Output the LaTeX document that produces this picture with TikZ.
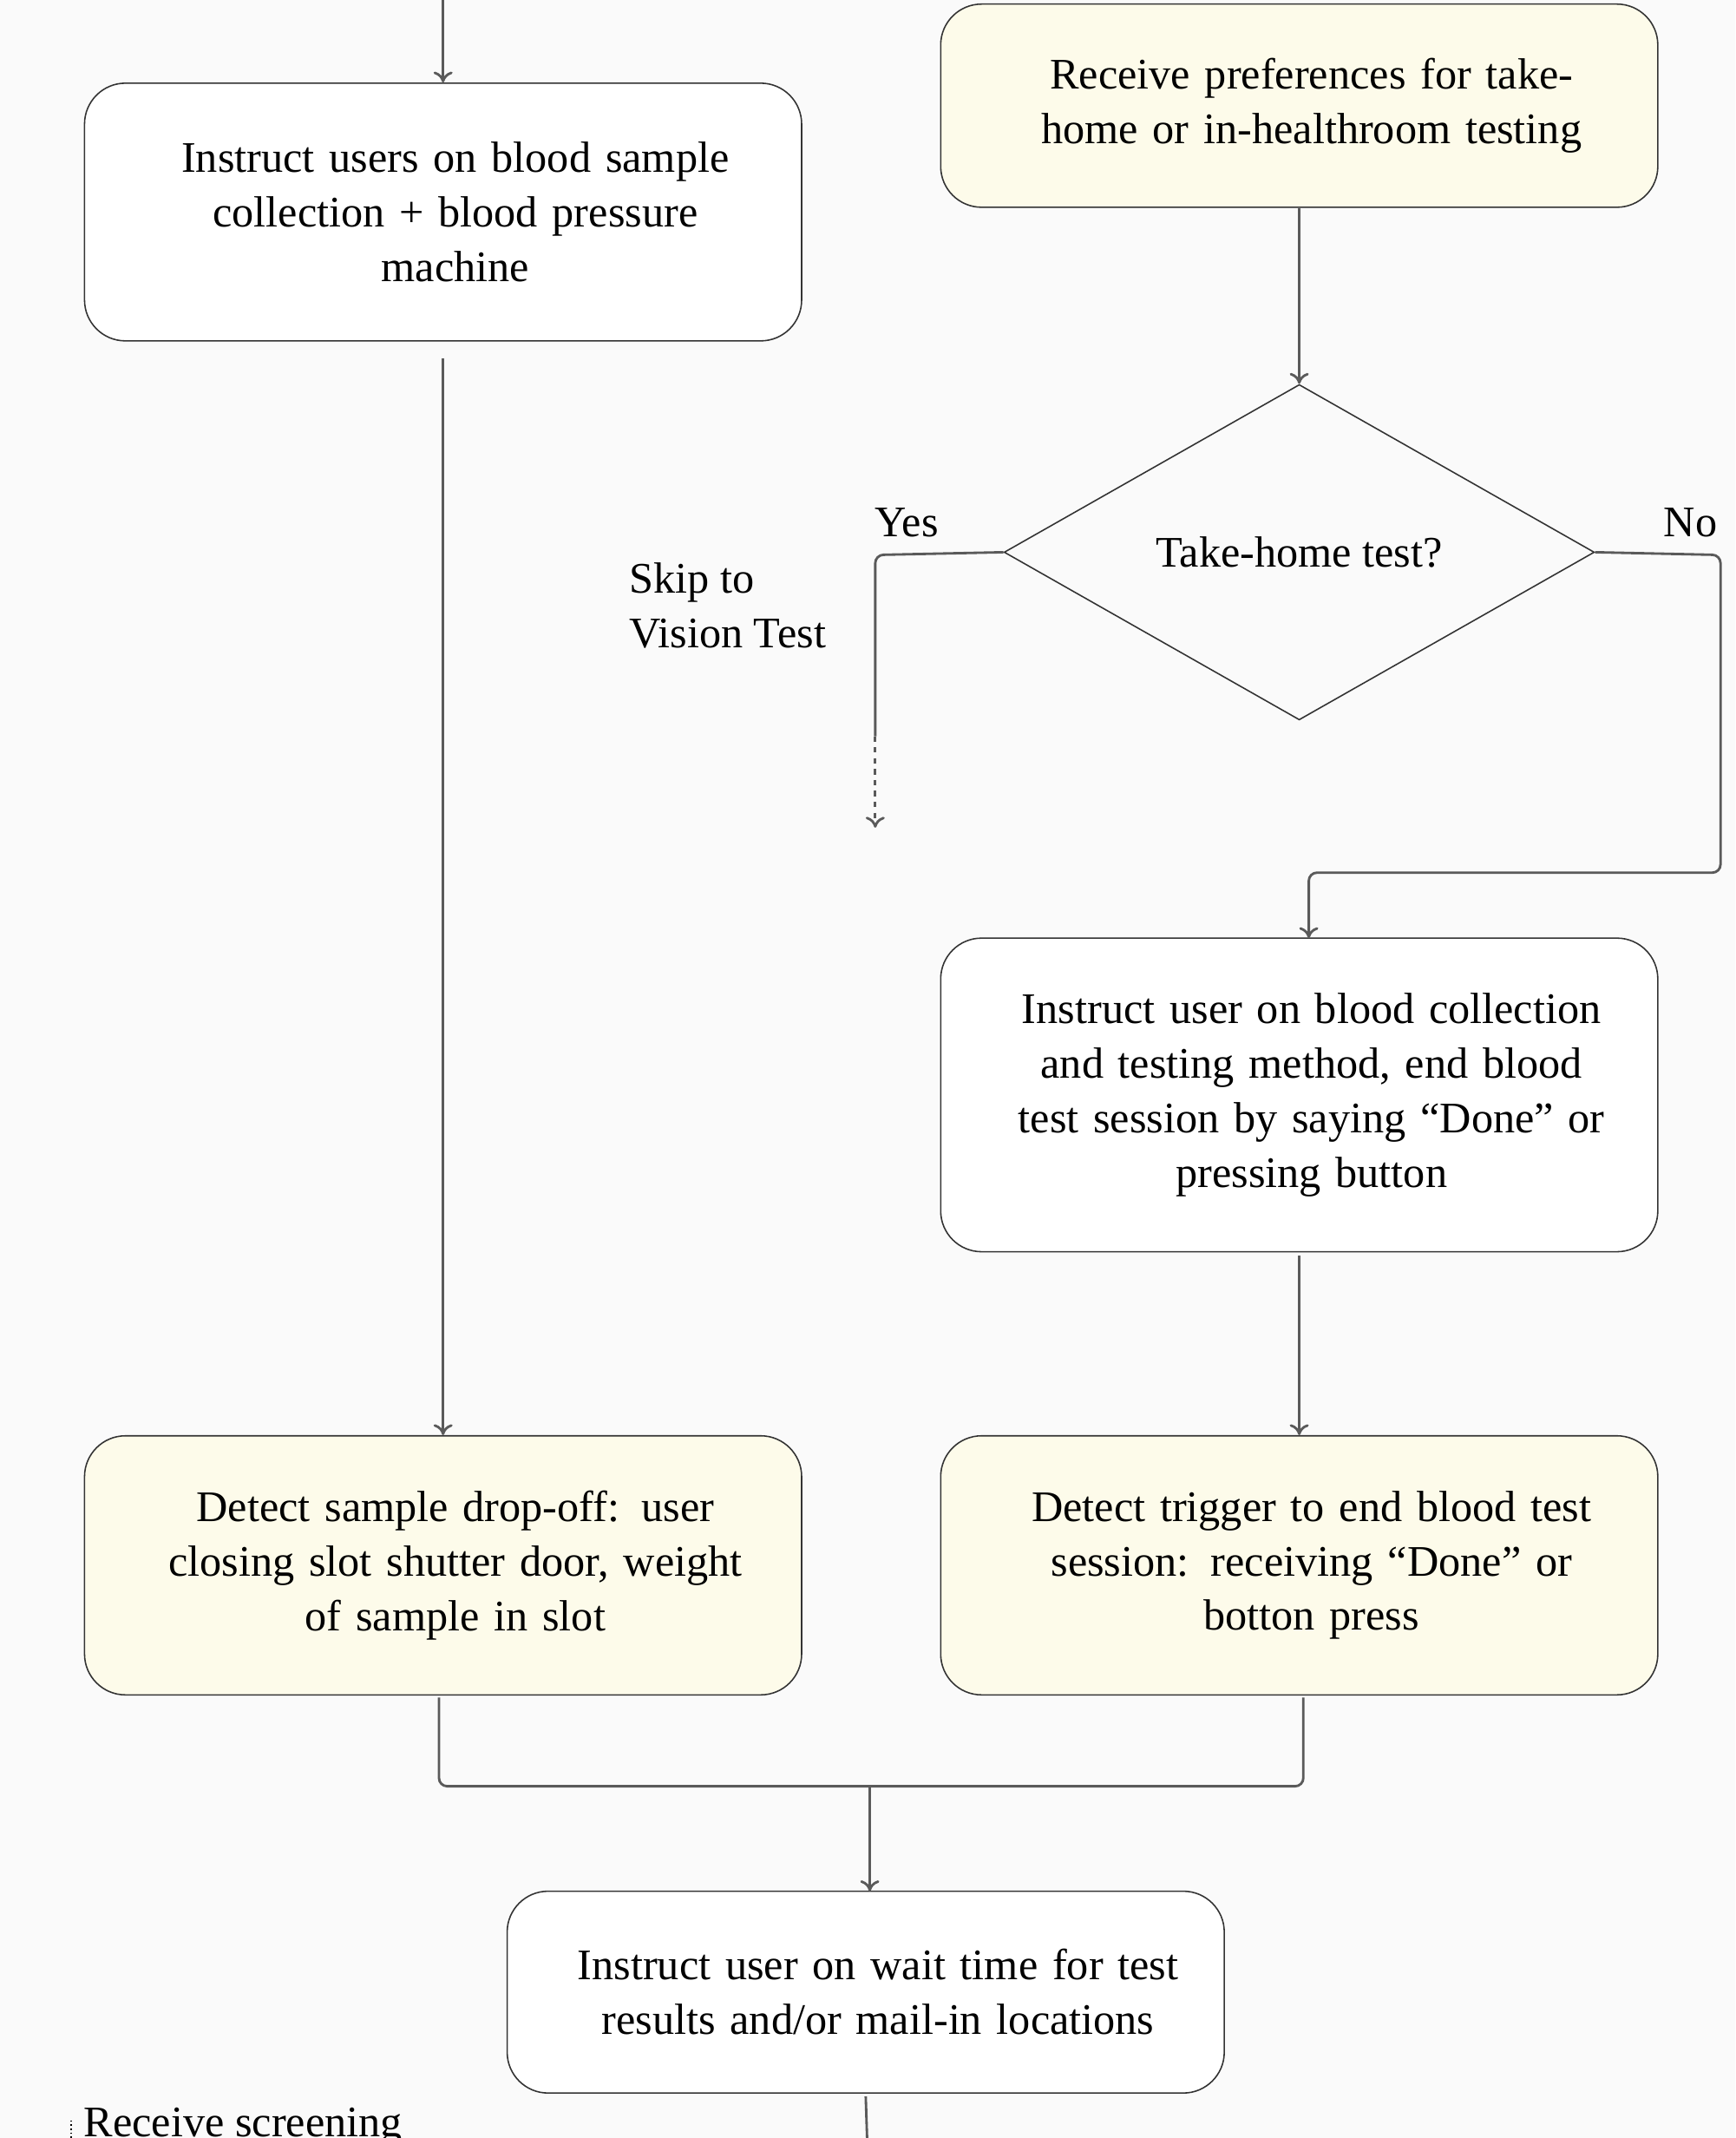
\documentclass[tikz,border=0pt]{standalone}
\usepackage{fontspec}
\setmainfont{Liberation Serif}
\usetikzlibrary{shapes.geometric,arrows.meta}
\definecolor{bg}{HTML}{FAFAFA}
\definecolor{yel}{HTML}{FDFBEA}
\definecolor{ln}{HTML}{5A5A5A}
\begin{document}
\begin{tikzpicture}[x=1pt,y=-1pt,
  txt/.style={font=\fontsize{32}{40}\selectfont},
  box/.style={txt,draw=black!80,line width=1pt,rounded corners=30pt,minimum width=526pt,text width=490pt,align=center,inner sep=0pt},
  arr/.style={draw=ln,line width=1.8pt,-{To[length=8pt,width=14pt]}},
  con/.style={draw=ln,line width=1.8pt,rounded corners=6pt}]
\fill[bg] (0,0) rectangle (1273,1568);
\useasboundingbox (0,0) rectangle (1273,1568);
\node[box,fill=white,minimum height=189pt] (A) at (325,155.5) {\hspace*{18pt}Instruct users on blood sample\\\hspace*{18pt}collection + blood pressure\\\hspace*{18pt}machine};
\node[box,fill=yel,minimum height=149pt] (B) at (953,77.5) {\hspace*{18pt}Receive preferences for take-\\\hspace*{18pt}home or in-healthroom testing};
\node[txt,diamond,draw=black!80,line width=1pt,aspect=1.76,minimum width=433pt,minimum height=246pt,inner sep=0pt] (Q) at (953,405) {Take-home test?};
\node[txt] (yes) at (665,383) {Yes};
\node[txt] (no) at (1240,383) {No};
\node[txt,align=left,anchor=west] (skip) at (458,444) {Skip to\\Vision Test};
\node[box,fill=white,minimum height=230pt] (C) at (953,803) {\hspace*{18pt}Instruct user on blood collection\\\hspace*{18pt}and testing method, end blood\\\hspace*{18pt}test session by saying “Done” or\\\hspace*{18pt}pressing button};
\node[box,fill=yel,minimum height=190pt] (D) at (325,1148) {\hspace*{18pt}Detect sample drop-off: user\\\hspace*{18pt}closing slot shutter door, weight\\\hspace*{18pt}of sample in slot};
\node[box,fill=yel,minimum height=190pt] (E) at (953,1148) {\hspace*{18pt}Detect trigger to end blood test\\\hspace*{18pt}session: receiving “Done” or\\\hspace*{18pt}botton press};
\node[box,fill=white,minimum height=148pt] (F) at (635,1461) {\hspace*{18pt}Instruct user on wait time for test\\\hspace*{18pt}results and/or mail-in locations};
\node[txt,anchor=west] (R) at (58,1560) {Receive screening};
\coordinate (top) at (325,0);
\coordinate (yd) at (642,540);
\coordinate (ye) at (642,607);
\coordinate (m) at (638,1310);
\coordinate (fin) at (638,1387);
\coordinate (bot) at (636,1568);
\draw[arr] (top) -- (A.north);
\draw[arr] (B.south) -- (Q.north);
\draw[con] (Q.west) -- (642,407) -- (yd);
\draw[arr,dashed,dash pattern=on 4pt off 4pt] (yd) -- (ye);
\draw[con,-{To[length=8pt,width=14pt]}] (Q.east) -- (1262,407) -- (1262,640) -- (960,640) -- (960,688);
\draw[arr] (C.south) ++(0,2) -- (E.north);
\draw[arr] (325,263) -- (D.north);
\draw[con] (322,1245) -- (322,1310) -- (956,1310) -- (956,1245);
\draw[arr] (m) -- (fin);
\draw[con] (F.south) ++(0,2) -- (bot);
\draw[dotted,line width=1pt] (52,1555) -- (52,1568);
\end{tikzpicture}
\end{document}
